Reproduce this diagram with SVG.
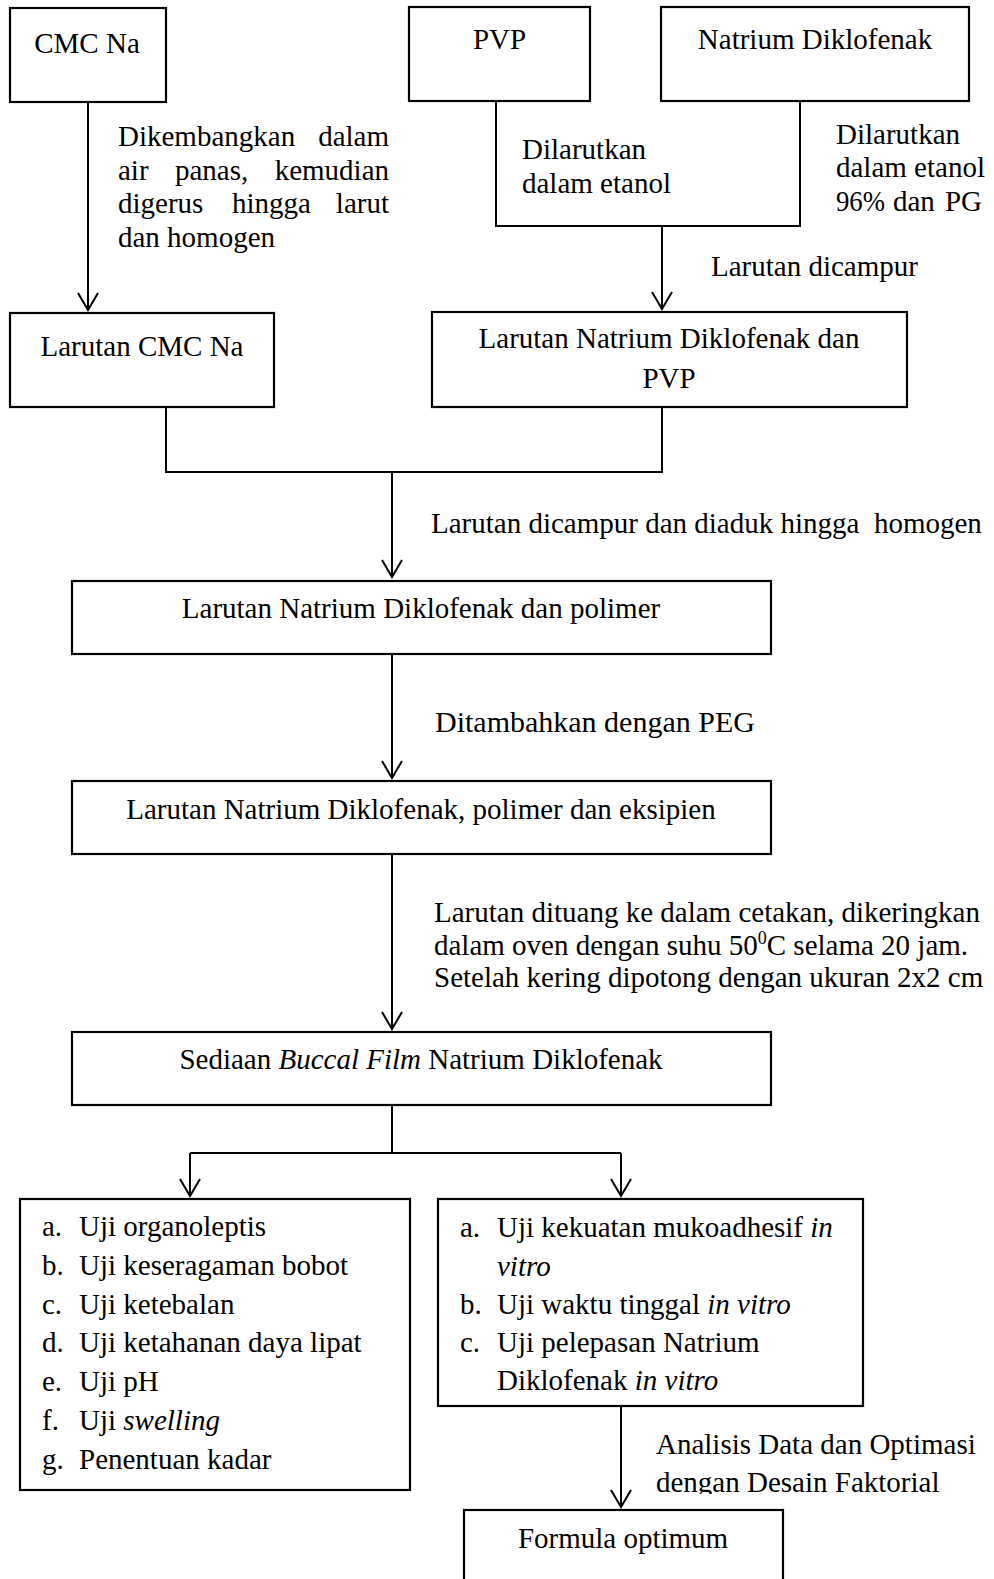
<svg xmlns="http://www.w3.org/2000/svg" width="994" height="1579" viewBox="0 0 994 1579">
<style>
  text { font-family: "Liberation Serif", "Times New Roman", serif; font-size: 29px; fill: #000; }
  .c { text-anchor: middle; }
  .e { text-anchor: end; }
  .i { font-style: italic; }
  .box { fill: #fff; stroke: #000; stroke-width: 2.2; }
  .ln { fill: none; stroke: #000; stroke-width: 2; }
</style>
<defs>
  <marker id="arr" markerWidth="24" markerHeight="20" viewBox="-11 -18 22 20" refX="0" refY="0" orient="0" markerUnits="userSpaceOnUse">
    <path d="M-10 -17 L0 0 L10 -17" fill="none" stroke="#000" stroke-width="2"/>
  </marker>
  <clipPath id="clipLbl"><rect x="640" y="1420" width="354" height="74"/></clipPath>
</defs>
<rect x="0" y="0" width="994" height="1579" fill="#fff"/>

<g id="connectors">
  <path class="ln" d="M88 102 V310" marker-end="url(#arr)"/>
  <path class="ln" d="M496 101 V226 H800 V101"/>
  <path class="ln" d="M662 226 V309" marker-end="url(#arr)"/>
  <path class="ln" d="M166 407 V472 H662 V407"/>
  <path class="ln" d="M392 472 V577" marker-end="url(#arr)"/>
  <path class="ln" d="M392 654 V778" marker-end="url(#arr)"/>
  <path class="ln" d="M392 854 V1029" marker-end="url(#arr)"/>
  <path class="ln" d="M392 1105 V1153 M190 1153 H621"/>
  <path class="ln" d="M190 1153 V1196" marker-end="url(#arr)"/>
  <path class="ln" d="M621 1153 V1196" marker-end="url(#arr)"/>
  <path class="ln" d="M621 1406 V1507" marker-end="url(#arr)"/>
</g>

<g id="labels">
  <g id="lbl-cmc">
    <text x="118" y="146">Dikembangkan</text><text x="389" y="146" class="e">dalam</text>
    <text x="118" y="180">air</text><text x="175" y="180">panas,</text><text x="389" y="180" class="e">kemudian</text>
    <text x="118" y="213">digerus</text><text x="232" y="213">hingga</text><text x="389" y="213" class="e">larut</text>
    <text x="118" y="247">dan homogen</text>
  </g>
  <g id="lbl-pvp">
    <text x="522" y="159">Dilarutkan</text>
    <text x="522" y="193">dalam etanol</text>
  </g>
  <g id="lbl-nd">
    <text x="836" y="144">Dilarutkan</text>
    <text x="836" y="177">dalam etanol</text>
    <text x="836" y="211" textLength="49" lengthAdjust="spacingAndGlyphs">96%</text><text x="893" y="211">dan</text><text x="982" y="211" class="e">PG</text>
  </g>
  <text id="lbl-campur" x="711" y="276">Larutan dicampur</text>
  <text id="lbl-aduk" x="431" y="533" xml:space="preserve">Larutan dicampur dan diaduk hingga  homogen</text>
  <text id="lbl-peg" x="435" y="732" style="font-size:30px">Ditambahkan dengan PEG</text>
  <g id="lbl-tuang">
    <text x="434" y="922">Larutan dituang ke dalam cetakan, dikeringkan</text>
    <text x="434" y="955">dalam oven dengan suhu 50<tspan dy="-11" style="font-size:18px">0</tspan><tspan dy="11">C selama 20 jam.</tspan></text>
    <text x="434" y="987">Setelah kering dipotong dengan ukuran 2x2 cm</text>
  </g>
  <g id="lbl-analisis" clip-path="url(#clipLbl)">
    <text x="656" y="1454">Analisis Data dan Optimasi</text>
    <text x="656" y="1492">dengan Desain Faktorial</text>
  </g>
</g>

<g id="n-cmc">
  <rect class="box" x="10" y="8" width="156" height="94"/>
  <text x="87" y="53" class="c">CMC Na</text>
</g>
<g id="n-pvp">
  <rect class="box" x="409" y="7" width="181" height="94"/>
  <text x="499.5" y="49" class="c">PVP</text>
</g>
<g id="n-nd">
  <rect class="box" x="661" y="7" width="308" height="94"/>
  <text x="815" y="49" class="c">Natrium Diklofenak</text>
</g>
<g id="n-larcmc">
  <rect class="box" x="10" y="313" width="264" height="94"/>
  <text x="142" y="356" class="c">Larutan CMC Na</text>
</g>
<g id="n-ndpvp">
  <rect class="box" x="432" y="312" width="475" height="95"/>
  <text x="669" y="348" class="c">Larutan Natrium Diklofenak dan</text>
  <text x="669" y="388" class="c">PVP</text>
</g>
<g id="n-polimer">
  <rect class="box" x="72" y="581" width="699" height="73"/>
  <text x="421" y="618" class="c">Larutan Natrium Diklofenak dan polimer</text>
</g>
<g id="n-eksipien">
  <rect class="box" x="72" y="781" width="699" height="73"/>
  <text x="421" y="819" class="c">Larutan Natrium Diklofenak, polimer dan eksipien</text>
</g>
<g id="n-sediaan">
  <rect class="box" x="72" y="1032" width="699" height="73"/>
  <text x="421" y="1069" class="c">Sediaan <tspan class="i">Buccal Film</tspan> Natrium Diklofenak</text>
</g>
<g id="n-uji1">
  <rect class="box" x="20" y="1199" width="390" height="291"/>
  <text x="42" y="1236">a.</text><text x="79" y="1236">Uji organoleptis</text>
  <text x="42" y="1275">b.</text><text x="79" y="1275">Uji keseragaman bobot</text>
  <text x="42" y="1314">c.</text><text x="79" y="1314">Uji ketebalan</text>
  <text x="42" y="1352">d.</text><text x="79" y="1352">Uji ketahanan daya lipat</text>
  <text x="42" y="1391">e.</text><text x="79" y="1391">Uji pH</text>
  <text x="42" y="1430">f.</text><text x="79" y="1430">Uji <tspan class="i">swelling</tspan></text>
  <text x="42" y="1469">g.</text><text x="79" y="1469">Penentuan kadar</text>
</g>
<g id="n-uji2">
  <rect class="box" x="438" y="1199" width="425" height="207"/>
  <text x="460" y="1237">a.</text><text x="497" y="1237">Uji kekuatan mukoadhesif <tspan class="i">in</tspan></text>
  <text x="497" y="1276" class="i">vitro</text>
  <text x="460" y="1314">b.</text><text x="497" y="1314">Uji waktu tinggal <tspan class="i">in vitro</tspan></text>
  <text x="460" y="1352">c.</text><text x="497" y="1352">Uji pelepasan Natrium</text>
  <text x="497" y="1390">Diklofenak <tspan class="i">in vitro</tspan></text>
</g>
<g id="n-formula">
  <rect class="box" x="464" y="1510" width="319" height="90"/>
  <text x="623" y="1548" class="c">Formula optimum</text>
</g>
</svg>
